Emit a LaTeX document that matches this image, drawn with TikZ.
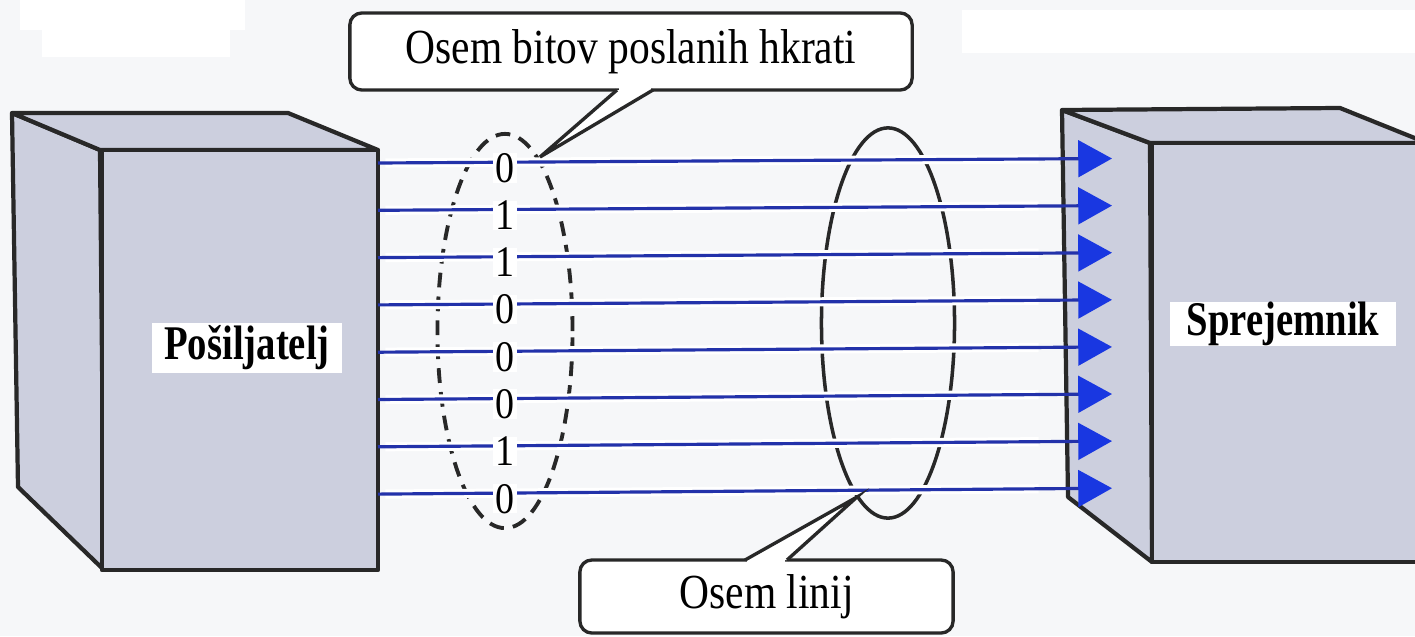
\documentclass[tikz,border=0pt]{standalone}
\usepackage{fontspec}
\usepackage{graphicx}
\setmainfont{Liberation Serif}
\usetikzlibrary{arrows.meta,shapes.geometric,calc}
\definecolor{bg}{RGB}{246,247,249}
\definecolor{boxfill}{RGB}{204,207,222}
\definecolor{busblue}{RGB}{35,50,170}
\definecolor{tipblue}{RGB}{25,55,225}
\definecolor{edge}{RGB}{40,40,40}
\tikzset{
  boxface/.style={fill=boxfill, draw=edge, line width=1.2pt, line join=round},
  halo/.style={draw=white, line width=2.6pt},
  bus/.style={draw=busblue, line width=0.9pt, -{Triangle[length=9.6pt,width=10.4pt,color=tipblue]}},
  bit/.style={fill=white, inner xsep=0.8pt, inner ysep=0pt, font=\fontsize{10.8}{11}\selectfont},
  solidell/.style={ellipse, draw=edge, line width=1pt, inner sep=0pt, minimum width=1.33cm, minimum height=3.9cm},
  dashell/.style={ellipse, draw=edge, line width=1.1pt, dash pattern=on 4.2pt off 2.6pt, inner sep=0pt, minimum width=1.35cm, minimum height=3.94cm},
  callout/.style={draw=edge, fill=white, line width=0.95pt, rounded corners=3.4pt, inner sep=0pt, font=\fontsize{11.8}{12}\selectfont},
  pointer/.style={draw=edge, line width=0.95pt, line join=miter},
  namelabel/.style={fill=white, inner sep=0pt, font=\fontsize{11}{12}\selectfont\bfseries}
}
\begin{document}
\begin{tikzpicture}[x=0.01cm,y=-0.01cm]
\clip (0,0) rectangle (1415,636);
\fill[bg] (0,0) rectangle (1415,636);
\fill[white] (20,0) rectangle (245,30);
\fill[white] (42,30) rectangle (230,57);
\fill[white] (962,10) rectangle (1415,53);

% sender box
\filldraw[boxface] (12,113) -- (100,150) -- (104,570) -- (18,487) -- cycle;
\filldraw[boxface] (12,113) -- (288,113) -- (378,150) -- (100,150) -- cycle;
\filldraw[boxface] (102,150) rectangle (378,570);

% receiver box
\filldraw[boxface] (1062,110) -- (1150,143) -- (1152,562) -- (1068,497) -- cycle;
\filldraw[boxface] (1062,110) -- (1340,108) -- (1427,143) -- (1150,143) -- cycle;
\filldraw[boxface] (1152,143) rectangle (1440,562);

% ellipses
\node[solidell] (lines) at (888,323) {};
\node[dashell] (bits) at (505,331) {};

% bus lines
\foreach \i in {1,...,8} {
  \pgfmathsetmacro\yl{163+47.3*(\i-1)}
  \pgfmathsetmacro\yr{158.5+47.1*(\i-1)}
  \coordinate (L\i) at (378,\yl);
  \coordinate (R\i) at (1112,\yr);
}
\foreach \i in {1,...,8} {
  \draw[halo] ($(L\i)!0.01!(R\i)$) -- ($(L\i)!0.9!(R\i)$);
}
\foreach \i in {1,...,8} {
  \draw[bus] (L\i) -- (R\i);
}
\foreach \i/\b in {1/0,2/1,3/1,4/0,5/0,6/0,7/1,8/0} {
  \node[bit, yshift=-1.6pt] (b\i) at ($(L\i)!0.173!(R\i)$) {\scalebox{1}[1.15]{\b}};
}

% box labels
\node[namelabel, minimum width=1.89cm, minimum height=0.49cm] (sender) at (247,348) {\scalebox{1}[1.25]{Pošiljatelj}};
\node[namelabel, minimum width=2.25cm, minimum height=0.44cm] (receiver) at (1283,324) {\scalebox{1}[1.25]{Sprejemnik}};

% top callout
\node[callout, minimum width=5.62cm, minimum height=0.77cm] (cTop) at (631,51.5) {\scalebox{1}[1.18]{Osem bitov poslanih hkrati}};
\coordinate (tTop) at (540,157);
\coordinate (aTop) at (617,90);
\coordinate (bTop) at (653,90);
\fill[white] (619,86) rectangle (651,93);
\fill[white] (aTop) -- (tTop) -- (bTop) -- cycle;
\draw[pointer] (aTop) -- (tTop) -- (bTop);

% bottom callout
\node[callout, minimum width=3.73cm, minimum height=0.73cm] (cBot) at (766.5,596.5) {\scalebox{1}[1.18]{Osem linij}};
\coordinate (tBot) at (857,497);
\coordinate (aBot) at (745,560);
\coordinate (bBot) at (787,560);
\fill[white] (747,557) rectangle (785,563);
\fill[white] (aBot) -- (tBot) -- (bBot) -- cycle;
\draw[pointer] (aBot) -- (tBot) -- (bBot);
\end{tikzpicture}
\end{document}
